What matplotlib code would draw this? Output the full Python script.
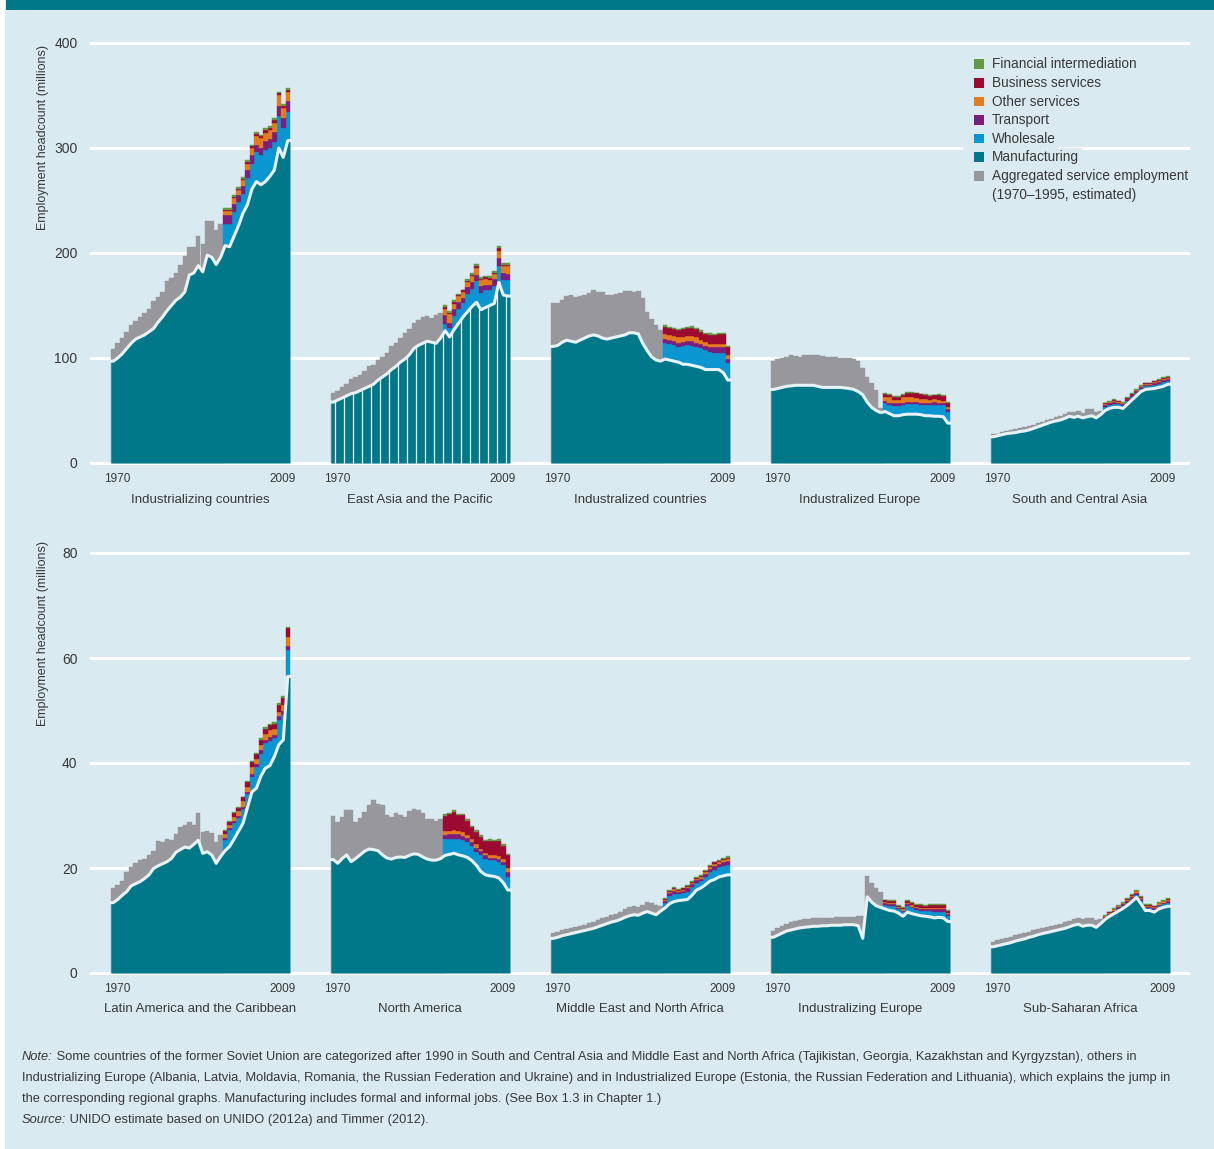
import numpy as np
import matplotlib
matplotlib.use("Agg")
import matplotlib.pyplot as plt
from matplotlib.patches import Rectangle

plt.rcParams['font.family'] = ['Liberation Sans', 'DejaVu Sans']

# ---------------------------------------------------------------
# DATA (millions of jobs, 1970-2009)
# mfg = manufacturing (40 yrs), agg = total with aggregated services (1970-1994)
# ws/tr/os/bs/fi = wholesale, transport, other, business, financial (1995-2009)
# ---------------------------------------------------------------
YEARS = list(range(1970, 2010))
N_AGG = 25

# --- top row ---
mfg_ic = [97, 100, 104, 109, 114, 118, 120, 122, 125, 128, 134, 139, 145, 150, 155, 158, 163, 179, 181, 188,
          182, 198, 196, 189, 196, 207, 206, 216, 226, 238, 246, 261, 268, 265, 268, 273, 279, 300, 291, 307]
agg_ic = [109, 114, 119, 125, 131, 135, 139, 143, 147, 154, 158, 163, 173, 176, 181, 189, 197, 206, 206, 216,
          209, 230, 230, 222, 228]
ws_ic = [21, 22, 23, 23, 18, 25, 24, 28, 28, 30, 27, 27, 30, 28, 27]
tr_ic = [8, 8, 8, 6.3, 7.6, 7.9, 7.9, 7.3, 7, 8.6, 8.6, 8.9, 10.2, 9.5, 10.5]
os_ic = [4.1, 4, 5.4, 4.8, 5.7, 5.7, 7, 8.6, 9.5, 7.9, 8.9, 9.2, 9.8, 9.5, 9.2]
bs_ic = [1, 1, 1, 1.3, 1.6, 1.9, 1.6, 1.6, 1.6, 2.2, 1.6, 2.5, 2.2, 1.6, 1.9]
fi_ic = [1.5, 1.5, 1.6, 1.6, 1.9, 1.9, 1.6, 1.9, 1.6, 1.9, 1.6, 1.9, 1.6, 2.2, 1.9]

mfg_eap = [58, 60, 62, 64, 66, 67, 69, 71, 73, 75, 79, 82, 85, 89, 92, 96, 99, 103, 109, 112,
           114, 116, 115, 114, 119, 126, 120, 127, 133, 139, 144, 149, 153, 146, 148, 150, 152, 172, 160, 159]
agg_eap = [67, 69, 72, 75, 80, 82, 84, 88, 92, 93, 98, 101, 105, 111, 114, 119, 124, 128, 133, 136,
           139, 140, 138, 141, 143]
ws_eap = [6, 9, 13, 14, 13, 17, 17, 20, 16, 17, 15, 17, 16, 14, 15]
tr_eap = [8.6, 4.8, 6.3, 6.3, 4.8, 6.3, 6.3, 5.7, 6.7, 4.8, 4.8, 6.3, 7.3, 7, 5.7]
os_eap = [5.7, 7.9, 5.4, 5.4, 6.3, 4.8, 5.4, 7, 5.4, 5.4, 4.8, 4.8, 7, 6.3, 7.6]
bs_eap = [2.2, 1.6, 1.6, 1.6, 1.3, 1.6, 1.6, 1.9, 1.6, 1.6, 1.6, 1.3, 2.2, 1.6, 1.6]
fi_eap = [1.6, 1.3, 1.6, 1.0, 0.6, 1.6, 1.6, 1.9, 1.6, 1.6, 1.6, 1.3, 2.2, 1.6, 1.6]

mfg_izd = [111, 112, 115, 117, 116, 115, 117, 119, 121, 122, 121, 119, 118, 119, 120, 121, 122, 124, 124, 123,
           114, 107, 101, 98, 97, 99, 98, 97, 96, 94, 94, 93, 92, 91, 89, 89, 89, 89, 86, 79]
agg_izd = [152, 152, 155, 159, 160, 158, 159, 160, 162, 165, 163, 163, 160, 160, 161, 162, 164, 164, 163, 164,
           157, 143.5, 137, 131, 127]
ws_izd = [15, 15.3, 15.4, 14.8, 17.4, 18.4, 18.8, 18.8, 18.2, 18.6, 17, 16.1, 16.1, 19.1, 15.9]
tr_izd = [4.1, 3.8, 4.1, 3.8, 4.1, 4.1, 4.4, 3.8, 4.1, 3.8, 4.1, 5.1, 5.1, 5.1, 4.1]
os_izd = [4.8, 4.8, 4.4, 5.1, 4.8, 4.4, 4.8, 5.1, 3.8, 4.1, 3.2, 3.2, 3.2, 3.2, 3.8]
bs_izd = [7, 6.3, 6.7, 7, 7, 7.9, 7.3, 7.6, 7.9, 7, 8.6, 8.6, 9.2, 9.5, 7.3]
fi_izd = [1.6, 1.3, 0.6, 0.6, 1, 1, 2.2, 1.6, 1.6, 1.6, 1.6, 1.3, 1.6, 1, 1.6]

mfg_ieu = [70, 71, 72, 73, 73.5, 74, 74, 74, 74, 74, 73, 72, 72, 72, 72, 72, 71.5, 71, 70, 68,
           65, 58, 53, 50, 48, 49, 47, 45, 45, 46, 46.5, 46.5, 46.5, 46, 45, 45, 44.5, 44.5, 44, 38]
agg_ieu = [97.4, 98.7, 99.6, 101.2, 102.5, 101.9, 101.2, 102.8, 102.8, 102.8, 102.5, 101.9, 100.6, 101.2, 100.6,
           99.6, 99.6, 99.6, 98.7, 97.4, 90.1, 82.2, 75.8, 69.5, 52]
ws_ieu = [7.8, 8.2, 9.6, 9.6, 9.2, 9.6, 9.6, 9.3, 9.2, 10.2, 10.2, 11.1, 10.7, 11.2, 10.9]
tr_ieu = [2.5, 2.2, 2.2, 2.2, 2.2, 2.2, 2.2, 2.2, 2.2, 2.2, 2.2, 2.5, 2.2, 2.2, 2.2]
os_ieu = [3.8, 5.1, 3.2, 3.2, 5.1, 4.1, 4.1, 3.5, 3.5, 3.5, 2.5, 2.5, 2.5, 1.9, 2.5]
bs_ieu = [2.5, 2.2, 3.2, 3.2, 2.2, 3.8, 3.8, 4.8, 4.4, 3.8, 4.1, 3.8, 4.8, 4.4, 3.8]
fi_ieu = [0.6, 0.6, 0.6, 0.6, 0.6, 1, 1, 0.6, 0.6, 0.6, 0.6, 0.6, 0.6, 1, 1]

mfg_sca = [25, 26, 27, 28, 28.5, 29, 30, 30.5, 31.5, 33, 34.5, 36, 37.5, 39, 40, 41, 42.5, 44.5, 43.5, 44.5,
           43, 44, 45, 43, 46, 50, 52, 53, 53, 52, 56, 60, 64, 68, 70, 70.5, 71, 72, 73, 75]
agg_sca = [27.5, 28, 29.5, 30.5, 31.5, 32.5, 33, 34, 35, 36.5, 38, 39.5, 41, 42, 43.5, 45, 47, 48.5, 49, 49.5,
           48, 51.5, 51.5, 49, 49.5]
ws_sca = [3.3, 3.1, 3.4, 2.8, 2.6, 2.9, 2.8, 2.9, 2.8, 2.9, 2.7, 3.3, 3.4, 3.8, 3.5]
tr_sca = [1.8, 1.7, 1.9, 1.6, 1.4, 1.6, 1.6, 1.6, 1.5, 1.6, 1.5, 1.8, 1.9, 2.1, 1.9]
os_sca = [0.9, 0.9, 0.9, 0.8, 0.7, 0.8, 0.8, 0.8, 0.8, 0.8, 0.7, 0.9, 0.9, 1.0, 1.0]
bs_sca = [0.8, 0.7, 0.8, 0.6, 0.6, 0.7, 0.6, 0.6, 0.6, 0.7, 0.6, 0.8, 0.8, 0.9, 0.8]
fi_sca = [0.6, 0.6, 0.6, 0.5, 0.4, 0.5, 0.5, 0.5, 0.5, 0.5, 0.5, 0.6, 0.6, 0.7, 0.6]

# --- bottom row ---
mfg_lac = [13.4, 14, 14.8, 15.5, 16.6, 17, 17.4, 18, 18.7, 19.9, 20.4, 20.8, 21.2, 21.8, 23, 23.5, 24, 23.8, 24.5,
           25.3, 22.8, 23.1, 22.5, 20.9, 22.2, 23.3, 24.1, 25.5, 27, 28.5, 31.5, 34.5, 35.2, 37.5, 39, 39.5, 41.2,
           43.5, 44.4, 56.5]
agg_lac = [16.1, 16.8, 17.6, 19.3, 20.2, 20.9, 21.5, 21.8, 22.5, 23.3, 25.2, 25, 25.6, 25.3, 26.5, 27.9, 28.2,
           28.8, 28.2, 30.4, 26.9, 27.1, 26.7, 25, 26.3]
ws_lac = [2, 3.1, 3, 2.5, 2.7, 2.6, 2.9, 4.1, 4.3, 4.8, 4.6, 3.5, 4.7, 4.7, 5.1]
tr_lac = [0.45, 0.5, 0.5, 0.35, 0.45, 0.45, 0.6, 0.6, 0.6, 0.6, 0.8, 0.6, 0.75, 0.8, 0.75]
os_lac = [0.65, 0.45, 0.75, 0.95, 1.15, 0.95, 1.15, 0.95, 0.95, 1.15, 1.4, 1.25, 0.85, 1.1, 1.6]
bs_lac = [0.65, 0.65, 0.75, 0.65, 0.65, 0.95, 0.95, 0.85, 1.1, 1, 0.85, 0.95, 1.25, 1.45, 1.7]
fi_lac = [0.2, 0.2, 0.2, 0.2, 0.15, 0.2, 0.2, 0.25, 0.3, 0.25, 0.25, 0.3, 0.3, 0.3, 0.3]

mfg_nam = [21.6, 20.9, 21.8, 22.5, 21.2, 21.8, 22.5, 23.2, 23.6, 23.5, 23.3, 22.5, 21.9, 21.7, 22, 22.1, 22, 22.4,
           22.7, 22.6, 22.1, 21.7, 21.5, 21.5, 21.8, 22.4, 22.6, 22.8, 22.5, 22.3, 22, 21.4, 20.5, 19.3, 18.7, 18.5,
           18.4, 18.1, 17.2, 15.8]
agg_nam = [29.9, 28.8, 29.7, 31.1, 31.1, 28.7, 29.5, 30.7, 32, 33, 32.2, 32, 30.1, 29.8, 30.4, 30.1, 29.8, 30.9,
           31.2, 31.1, 30.4, 29.3, 29.3, 29, 29.3]
ws_nam = [3.1, 3.0, 2.8, 3.1, 3.0, 3.0, 2.7, 2.6, 3.2, 3.1, 3.0, 3.1, 3.1, 3.4, 2.5]
tr_nam = [0.8, 0.8, 0.95, 0.95, 0.75, 0.65, 0.8, 0.8, 0.65, 0.65, 0.5, 0.5, 0.5, 0.45, 0.95]
os_nam = [0.75, 0.65, 0.75, 0.5, 0.8, 0.65, 0.55, 0.65, 0.45, 0.45, 0.55, 0.5, 0.55, 0.65, 0.75]
bs_nam = [2.9, 3.2, 3.4, 3.1, 3.2, 2.7, 2.3, 2.3, 2.4, 2.2, 2.6, 2.6, 2.9, 2.5, 2.4]
fi_nam = [0.25, 0.25, 0.3, 0.2, 0.25, 0.3, 0.25, 0.3, 0.3, 0.3, 0.3, 0.3, 0.3, 0.3, 0.3]

mfg_mena = [6.6, 6.8, 7.1, 7.3, 7.5, 7.7, 7.9, 8.1, 8.3, 8.5, 8.8, 9.1, 9.4, 9.7, 9.9, 10.2, 10.6, 10.9, 11.1, 11,
            11.4, 11.7, 11.4, 11.1, 11.8, 12.4, 13.2, 13.6, 13.8, 13.9, 14, 14.8, 15.8, 16.2, 16.8, 17.5, 17.8, 18.3,
            18.5, 18.7]
agg_mena = [7.6, 7.8, 8.1, 8.3, 8.6, 8.8, 9, 9.2, 9.5, 9.8, 10.1, 10.4, 10.7, 11, 11.3, 11.6, 12.1, 12.6, 12.8,
            12.6, 12.9, 13.5, 13.3, 13, 12.8]
ws_mena = [1.0, 1.4, 1.5, 1.2, 1.3, 1.5, 1.5, 1.4, 1.3, 1.5, 1.7, 1.9, 1.8, 1.9, 1.9]
tr_mena = [0.4, 0.6, 0.6, 0.5, 0.5, 0.6, 0.6, 0.55, 0.5, 0.6, 0.7, 0.75, 0.7, 0.75, 0.8]
os_mena = [0.15, 0.2, 0.25, 0.2, 0.2, 0.25, 0.2, 0.2, 0.2, 0.25, 0.25, 0.3, 0.3, 0.3, 0.3]
bs_mena = [0.15, 0.25, 0.25, 0.2, 0.2, 0.25, 0.25, 0.2, 0.25, 0.25, 0.3, 0.3, 0.3, 0.3, 0.3]
fi_mena = [0.1, 0.15, 0.2, 0.1, 0.1, 0.2, 0.15, 0.15, 0.15, 0.2, 0.15, 0.15, 0.2, 0.15, 0.2]

mfg_ize = [6.8, 7.2, 7.6, 8, 8.2, 8.4, 8.6, 8.7, 8.8, 8.9, 8.9, 9, 9, 9.1, 9.1, 9.1, 9.2, 9.2, 9.2, 9,
           6.6, 14.5, 13.5, 12.8, 12.5, 12.2, 11.9, 11.8, 11.4, 10.8, 11.6, 11.3, 11.1, 10.9, 10.8, 10.7, 10.5,
           10.6, 10.5, 9.8]
agg_ize = [8, 8.6, 9, 9.4, 9.7, 9.9, 10.1, 10.2, 10.3, 10.4, 10.4, 10.5, 10.5, 10.5, 10.6, 10.6, 10.7, 10.7,
           10.7, 10.8, 10.8, 18.4, 17.2, 16.2, 15.5]
ws_ize = [0.8, 0.9, 1.0, 0.7, 0.8, 1.1, 1.0, 0.9, 1.0, 1.0, 1.1, 1.2, 1.1, 1.2, 1.0]
tr_ize = [0.3, 0.3, 0.35, 0.25, 0.3, 0.35, 0.35, 0.3, 0.35, 0.35, 0.35, 0.4, 0.4, 0.4, 0.35]
os_ize = [0.2, 0.2, 0.2, 0.15, 0.2, 0.25, 0.25, 0.2, 0.2, 0.2, 0.25, 0.25, 0.25, 0.25, 0.2]
bs_ize = [0.35, 0.45, 0.45, 0.35, 0.35, 0.5, 0.5, 0.45, 0.45, 0.45, 0.5, 0.55, 0.55, 0.55, 0.45]
fi_ize = [0.15, 0.15, 0.2, 0.15, 0.15, 0.2, 0.2, 0.15, 0.2, 0.2, 0.2, 0.2, 0.2, 0.2, 0.2]

mfg_ssa = [5, 5.2, 5.4, 5.6, 5.8, 6.1, 6.3, 6.5, 6.8, 7, 7.3, 7.5, 7.7, 7.9, 8.1, 8.3, 8.5, 8.8, 9.1, 9.3,
           8.9, 9.1, 9.1, 8.7, 9.4, 10.2, 10.8, 11.3, 11.8, 12.3, 12.9, 13.6, 14.4, 13.2, 11.9, 11.9, 11.6, 12.2,
           12.5, 12.7]
agg_ssa = [6, 6.2, 6.5, 6.7, 6.9, 7.2, 7.4, 7.6, 7.9, 8.1, 8.4, 8.6, 8.8, 9, 9.2, 9.4, 9.7, 10, 10.3, 10.5,
           10.2, 10.4, 10.4, 10.1, 10.3]
ws_ssa = [0.3, 0.3, 0.35, 0.4, 0.45, 0.5, 0.55, 0.55, 0.55, 0.45, 0.45, 0.45, 0.5, 0.55, 0.6]
tr_ssa = [0.2, 0.2, 0.25, 0.3, 0.3, 0.3, 0.35, 0.35, 0.35, 0.3, 0.3, 0.3, 0.3, 0.35, 0.35]
os_ssa = [0.15, 0.15, 0.2, 0.2, 0.2, 0.25, 0.25, 0.25, 0.25, 0.2, 0.2, 0.2, 0.25, 0.25, 0.25]
bs_ssa = [0.1, 0.1, 0.15, 0.15, 0.15, 0.15, 0.15, 0.15, 0.15, 0.15, 0.15, 0.15, 0.15, 0.15, 0.2]
fi_ssa = [0.05, 0.05, 0.05, 0.05, 0.1, 0.1, 0.1, 0.1, 0.1, 0.1, 0.1, 0.1, 0.1, 0.1, 0.1]

names_top = ['Industrializing countries', 'East Asia and the Pacific', 'Industralized countries',
             'Industralized Europe', 'South and Central Asia']
names_bottom = ['Latin America and the Caribbean', 'North America', 'Middle East and North Africa',
                'Industralizing Europe', 'Sub-Saharan Africa']

# legend entries (the last one has a second line)
legend_labels = ['Financial intermediation', 'Business services', 'Other services', 'Transport',
                 'Wholesale', 'Manufacturing', 'Aggregated service employment']
legend_extra = '(1970\u20131995, estimated)'

# colours
BG = '#d9eaf0'
TEAL = '#00788a'
WHOLESALE = '#0a97d1'
TRANSPORT = '#7a1f80'
OTHER = '#e27c1e'
BUSINESS = '#9c0a32'
FINANCE = '#659845'
GRAY = '#98989c'
LINE = '#e6f2f6'
TXT = '#383838'

# pixel geometry of the original picture
W, H = 1214, 1149
PPX = 4.475                 # pixels per year
STEP = 220 / PPX            # distance between panels, in years
LEFT0 = 111                 # left edge of first panel


def fx(px):
    return px / W


def fy(py):
    return 1 - py / H


def hacerEje(fig, y_zero, ppu, ymin, ymax, ticks):
    """Axes covering one row, placed so the data maps onto the original pixels"""
    top = y_zero - ymax * ppu
    bottom = y_zero - ymin * ppu
    ax = fig.add_axes([fx(90), fy(bottom), 1100 / W, (bottom - top) / H])
    ax.set_facecolor('none')
    ax.set_xlim((90 - LEFT0) / PPX - 0.5, (1190 - LEFT0) / PPX - 0.5)
    ax.set_ylim(ymin, ymax)
    ax.set_yticks(ticks)
    ax.set_xticks([])
    ax.tick_params(axis='y', length=0, pad=9, labelsize=10, labelcolor=TXT)
    ax.yaxis.grid(True, color='white', lw=2.2)
    ax.set_axisbelow(True)
    for s in ax.spines.values():
        s.set_visible(False)
    return ax


def dibujarPanel(ax, k, mfg, agg, ws, tr, os_, bs, fi, stripes=False):
    x0 = k * STEP
    x = x0 + np.arange(len(YEARS))
    mfg = np.array(mfg, dtype=float)

    # aggregated services (estimated) 1970-1994
    ax.bar(x[:N_AGG], agg, width=1.0, color=GRAY, edgecolor=GRAY, lw=0.3, zorder=2)

    # detailed services stacked on manufacturing 1995-2009
    bottom = mfg[N_AGG:].copy()
    for vals, col in [(ws, WHOLESALE), (tr, TRANSPORT), (os_, OTHER), (bs, BUSINESS), (fi, FINANCE)]:
        ax.bar(x[N_AGG:], vals, bottom=bottom, width=1.0, color=col, edgecolor=col, lw=0.3, zorder=2)
        bottom = bottom + np.array(vals)

    # manufacturing area + light line
    xs = np.concatenate([[x0 - 0.5], x, [x0 + len(x) - 0.5]])
    ys = np.concatenate([[mfg[0]], mfg, [mfg[-1]]])
    ax.fill_between(xs, 0, ys, color=TEAL, lw=0, zorder=3)
    if stripes:
        xv = x0 + np.arange(0.5, 39, 2)
        ax.vlines(xv, 0, np.interp(xv, x, mfg), color=LINE, lw=0.9, zorder=3.5)
    ax.plot(xs, ys, color=LINE, lw=2.2, zorder=4, solid_joinstyle='round')


def etiquetas(fig, k, y_year, y_name, name):
    left = LEFT0 + 220 * k
    fig.text(fx(left + 6), fy(y_year), '1970', ha='center', va='center', fontsize=8.5, color=TXT)
    fig.text(fx(left + 172), fy(y_year), '2009', ha='center', va='center', fontsize=8.5, color=TXT)
    fig.text(fx(left + 89), fy(y_name), name, ha='center', va='center', fontsize=9.5, color=TXT)


fig = plt.figure(figsize=(W / 100, H / 100), dpi=100)
fig.patch.set_facecolor('white')
fig.patches.append(Rectangle((fx(5), 0), 1 - fx(5), 1, transform=fig.transFigure,
                             facecolor=BG, edgecolor='none', zorder=-10))
fig.patches.append(Rectangle((fx(6), fy(10)), 1 - fx(6), 10 / H, transform=fig.transFigure,
                             facecolor=TEAL, edgecolor='none', zorder=-9))

ax_top = hacerEje(fig, 463, 1.05, -4, 412, [0, 100, 200, 300, 400])
ax_bot = hacerEje(fig, 973, 5.25, -0.8, 82.4, [0, 20, 40, 60, 80])

paneles_top = [
    (mfg_ic, agg_ic, ws_ic, tr_ic, os_ic, bs_ic, fi_ic),
    (mfg_eap, agg_eap, ws_eap, tr_eap, os_eap, bs_eap, fi_eap),
    (mfg_izd, agg_izd, ws_izd, tr_izd, os_izd, bs_izd, fi_izd),
    (mfg_ieu, agg_ieu, ws_ieu, tr_ieu, os_ieu, bs_ieu, fi_ieu),
    (mfg_sca, agg_sca, ws_sca, tr_sca, os_sca, bs_sca, fi_sca),
]
paneles_bot = [
    (mfg_lac, agg_lac, ws_lac, tr_lac, os_lac, bs_lac, fi_lac),
    (mfg_nam, agg_nam, ws_nam, tr_nam, os_nam, bs_nam, fi_nam),
    (mfg_mena, agg_mena, ws_mena, tr_mena, os_mena, bs_mena, fi_mena),
    (mfg_ize, agg_ize, ws_ize, tr_ize, os_ize, bs_ize, fi_ize),
    (mfg_ssa, agg_ssa, ws_ssa, tr_ssa, os_ssa, bs_ssa, fi_ssa),
]

for k, p in enumerate(paneles_top):
    dibujarPanel(ax_top, k, *p, stripes=(k == 1))
    etiquetas(fig, k, 479, 500, names_top[k])
for k, p in enumerate(paneles_bot):
    dibujarPanel(ax_bot, k, *p)
    etiquetas(fig, k, 989, 1009, names_bottom[k])

# y axis titles
for yc in (137, 633):
    fig.text(fx(43), fy(yc), 'Employment headcount (millions)', rotation=90,
             ha='center', va='center', fontsize=9, color=TXT)

# legend, drawn by hand
legend_colors = [FINANCE, BUSINESS, OTHER, TRANSPORT, WHOLESALE, TEAL, GRAY]
fig.patches.append(Rectangle((fx(963), fy(205)), 30 / W, 150 / H, transform=fig.transFigure,
                             facecolor=BG, edgecolor='none', zorder=5))
for i, (lab, col) in enumerate(zip(legend_labels, legend_colors)):
    yc = 64.5 + i * 18.6
    fig.patches.append(Rectangle((fx(974), fy(yc + 4.5)), 9.5 / W, 9.5 / H, transform=fig.transFigure,
                                 facecolor=col, edgecolor='none', zorder=6))
    fig.text(fx(992), fy(yc), lab, ha='left', va='center', fontsize=9.8, color=TXT, zorder=6,
             bbox=dict(facecolor=BG, edgecolor='none', pad=2))
fig.text(fx(992), fy(64.5 + 7 * 18.6), legend_extra, ha='left', va='center', fontsize=9.8, color=TXT,
         zorder=6, bbox=dict(facecolor=BG, edgecolor='none', pad=2))

# note / source
note_lines = [
    ('Note:', ' Some countries of the former Soviet Union are categorized after 1990 in South and Central Asia and '
              'Middle East and North Africa (Tajikistan, Georgia, Kazakhstan and Kyrgyzstan), others in'),
    ('', 'Industrializing Europe (Albania, Latvia, Moldavia, Romania, the Russian Federation and Ukraine) and in '
         'Industrialized Europe (Estonia, the Russian Federation and Lithuania), which explains the jump in'),
    ('', 'the corresponding regional graphs. Manufacturing includes formal and informal jobs. '
         '(See Box 1.3 in Chapter 1.)'),
    ('Source:', ' UNIDO estimate based on UNIDO (2012a) and Timmer (2012).'),
]
NOTE_FS = 9.3
renderer = fig.canvas.get_renderer()
for i, (ital, rest) in enumerate(note_lines):
    yc = fy(1057 + i * 21)
    xpos = 22
    if ital:
        t = fig.text(fx(xpos), yc, ital, style='italic', ha='left', va='center', fontsize=NOTE_FS, color=TXT)
        xpos += t.get_window_extent(renderer).width
    t2 = fig.text(fx(xpos), yc, rest, ha='left', va='center', fontsize=NOTE_FS, color=TXT)
    # keep long lines inside the right margin
    wdt = t2.get_window_extent(renderer).width
    if xpos + wdt > 1192:
        t2.set_fontsize(NOTE_FS * (1192 - xpos) / wdt)

fig.savefig('out.png', dpi=100, facecolor=fig.get_facecolor())
